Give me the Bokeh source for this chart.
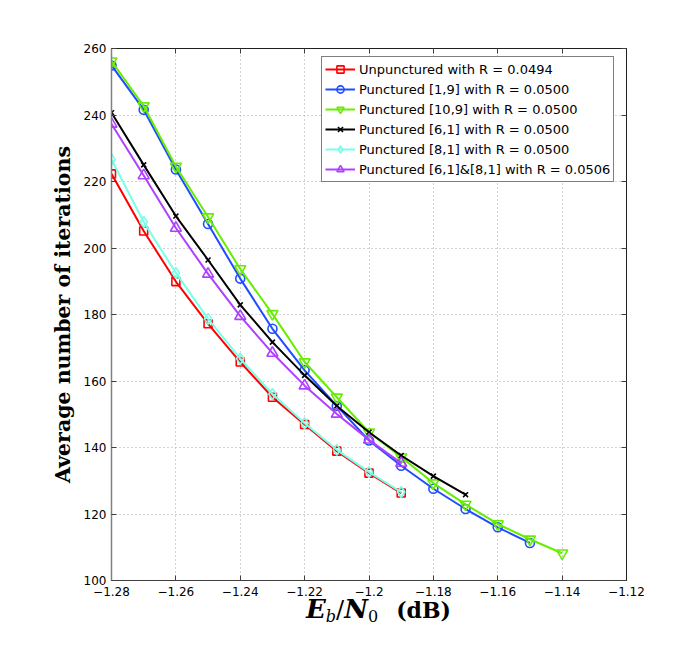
from bokeh.plotting import figure
from bokeh.models import (Range1d, FixedTicker, LinearAxis, Legend, LegendItem, Div,
                          CustomJSTickFormatter)
from bokeh.layouts import column
from bokeh.embed import file_html
from bokeh.resources import INLINE

# ---- data ----
x_red = [-1.28, -1.27, -1.26, -1.25, -1.24, -1.23, -1.22, -1.21, -1.20, -1.19]
y_red = [222.3, 205.1, 189.9, 177.2, 165.7, 155.1, 146.9, 138.9, 132.3, 126.3]

x_blue = [-1.28, -1.27, -1.26, -1.25, -1.24, -1.23, -1.22, -1.21, -1.20, -1.19, -1.18, -1.17, -1.16, -1.15]
y_blue = [254.9, 241.6, 223.6, 207.2, 190.8, 175.7, 163.2, 152.5, 142.1, 134.5, 127.6, 121.5, 116.0, 111.3]

x_green = [-1.28, -1.27, -1.26, -1.25, -1.24, -1.23, -1.22, -1.21, -1.20, -1.19, -1.18, -1.17, -1.16, -1.15, -1.14]
y_green = [256.2, 242.7, 224.5, 209.3, 193.7, 180.2, 165.7, 155.1, 144.6, 137.1, 129.3, 122.9, 117.0, 112.4, 108.2]

x_black = [-1.28, -1.27, -1.26, -1.25, -1.24, -1.23, -1.22, -1.21, -1.20, -1.19, -1.18, -1.17]
y_black = [240.7, 225.0, 209.6, 196.4, 182.9, 171.7, 161.7, 152.5, 144.6, 137.6, 131.4, 125.8]

x_cyan = [-1.28, -1.27, -1.26, -1.25, -1.24, -1.23, -1.22, -1.21, -1.20, -1.19]
y_cyan = [226.6, 207.8, 192.5, 178.7, 166.7, 156.1, 147.3, 139.3, 132.6, 126.6]

x_purple = [-1.28, -1.27, -1.26, -1.25, -1.24, -1.23, -1.22, -1.21, -1.20, -1.19]
y_purple = [237.3, 221.8, 206.0, 192.2, 179.5, 168.4, 158.6, 150.1, 142.3, 135.3]

series_names = [
    "Unpunctured with R = 0.0494",
    "Punctured [1,9] with R = 0.0500",
    "Punctured [10,9] with R = 0.0500",
    "Punctured [6,1] with R = 0.0500",
    "Punctured [8,1] with R = 0.0500",
    "Punctured [6,1]&[8,1] with R = 0.0506",
]

x_ticks = [-1.28, -1.26, -1.24, -1.22, -1.2, -1.18, -1.16, -1.14, -1.12]
x_tick_labels = ["\u22121.28", "\u22121.26", "\u22121.24", "\u22121.22", "\u22121.2",
                 "\u22121.18", "\u22121.16", "\u22121.14", "\u22121.12"]
y_ticks = [100, 120, 140, 160, 180, 200, 220, 240, 260]

y_label = "Average number of iterations"

# ---- figure ----
p = figure(width=676, height=604, output_backend="svg", toolbar_location=None,
           x_range=Range1d(-1.28, -1.12), y_range=Range1d(100, 260),
           min_border_left=111, min_border_right=50, min_border_top=48, min_border_bottom=24)
p.background_fill_color = "white"
p.border_fill_color = "white"
p.outline_line_color = "#202020"
p.outline_line_width = 1

TICK_FONT = "DejaVu Sans"

p.xaxis.ticker = FixedTicker(ticks=x_ticks)
p.yaxis.ticker = FixedTicker(ticks=y_ticks)
p.xaxis.formatter = CustomJSTickFormatter(
    args=dict(tvals=x_ticks, tlabels=x_tick_labels),
    code="const i = tvals.findIndex(t => Math.abs(t - tick) < 1e-9); "
         "return i >= 0 ? tlabels[i] : String(tick);")
for ax in (p.xaxis[0], p.yaxis[0]):
    ax.major_tick_in = 5
    ax.major_tick_out = 0
    ax.minor_tick_in = 0
    ax.minor_tick_out = 0
    ax.major_label_text_font = TICK_FONT
    ax.major_label_text_font_size = "12px"
    ax.major_label_text_color = "black"
    ax.axis_line_color = "#404040"
    ax.major_tick_line_color = "#404040"
    ax.major_label_standoff = 6
p.yaxis.major_label_standoff = 5
p.yaxis.axis_line_color = "#808080"
p.yaxis.axis_line_width = 1.5

p.yaxis.axis_label = y_label
p.yaxis.axis_label_text_font = "DejaVu Serif"
p.yaxis.axis_label_text_font_style = "bold"
p.yaxis.axis_label_text_font_size = "20.5px"
p.yaxis.axis_label_text_color = "black"
p.yaxis.axis_label_standoff = 6

# box ticks on top and right
for side in ("above", "right"):
    if side == "above":
        ax = LinearAxis(ticker=FixedTicker(ticks=x_ticks))
    else:
        ax = LinearAxis(ticker=FixedTicker(ticks=y_ticks))
    ax.major_tick_in = 5
    ax.major_tick_out = 0
    ax.minor_tick_in = 0
    ax.minor_tick_out = 0
    ax.major_label_text_font_size = "0px"
    ax.major_label_text_alpha = 0
    ax.axis_line_color = "#202020"
    ax.major_tick_line_color = "#404040"
    p.add_layout(ax, side)

for g in (p.xgrid[0], p.ygrid[0]):
    g.grid_line_color = "#a8a8a8"
    g.grid_line_dash = "1 3"
    g.grid_line_width = 1
p.xgrid.ticker = FixedTicker(ticks=x_ticks)
p.ygrid.ticker = FixedTicker(ticks=y_ticks)

# ---- series ----
specs = [
    (x_red, y_red, "#ff0000", "square", 8),
    (x_blue, y_blue, "#1f4dff", "circle", 9),
    (x_green, y_green, "#66ee00", "inverted_triangle", 11),
    (x_black, y_black, "#000000", "x", 7),
    (x_cyan, y_cyan, "#77ffe8", "diamond", 11),
    (x_purple, y_purple, "#b040ff", "triangle", 11),
]
items = []
for (xs, ys, col, mk, sz), name in zip(specs, series_names):
    ln = p.line(xs, ys, line_color=col, line_width=2)
    sc = p.scatter(xs, ys, marker=mk, size=sz, line_color=col, fill_color=None, line_width=1.6)
    items.append(LegendItem(label=name, renderers=[ln, sc]))

legend = Legend(items=items, location=(210, 398))
legend.label_text_font = TICK_FONT
legend.label_text_font_size = "13px"
legend.label_text_color = "black"
legend.label_height = 18
legend.glyph_height = 18
legend.glyph_width = 30
legend.spacing = 2
legend.padding = 3
legend.margin = 0
legend.label_standoff = 4
legend.border_line_color = "#000000"
legend.border_line_width = 1
legend.background_fill_color = "white"
legend.background_fill_alpha = 1
p.add_layout(legend, "center")

# ---- x-axis label (with subscripts) as text below the plot ----
xlab_html = (
    '<div style="position:relative; top:-6px; left:306px; white-space:nowrap; '
    'font-family:\'DejaVu Serif\'; font-weight:bold; font-size:22px; line-height:22px; color:black;">'
    '<span style="font-style:italic; font-size:26px;">E</span>'
    '<span style="font-style:italic; font-weight:normal; font-size:16px; position:relative; top:4px;">b</span>'
    '<span style="font-size:24px; font-weight:normal;">/</span>'
    '<span style="font-style:italic; font-size:26px;">N</span>'
    '<span style="font-size:16px; font-weight:normal; position:relative; top:4px;">0</span>'
    '<span style="margin-left:18px;">(dB)</span>'
    '</div>'
)
xlab = Div(text=xlab_html, width=676, height=30, margin=(0, 0, 0, 0))

layout = column(p, xlab, spacing=0)
open("out.html", "w").write(file_html(layout, INLINE))
